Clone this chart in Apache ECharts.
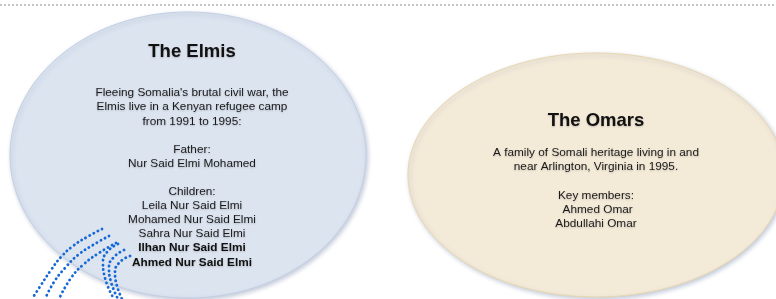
<!DOCTYPE html>
<html lang="en">
<head>
    <meta charset="UTF-8">
    <title>families</title>
    <script src="https://cdn.jsdelivr.net/npm/echarts@6/dist/echarts.min.js"></script>
    <style>
        html, body { margin: 0; padding: 0; background: #fff; }
    </style>
</head>
<body>
<div id="main" style="width:776px; height:299px;"></div>

<script>
    // ellipses (chart units = pixels, y goes down)
    var familyNames = ['The Elmis', 'The Omars'];
    var centerX = [188, 596];
    var centerY = [155, 175];
    var radiusX = [178, 188];
    var radiusY = [143, 122];

    var elmisLines = [
        "Fleeing Somalia's brutal civil war, the",
        'Elmis live in a Kenyan refugee camp',
        'from 1991 to 1995:',
        '',
        'Father:',
        'Nur Said Elmi Mohamed',
        '',
        'Children:',
        'Leila Nur Said Elmi',
        'Mohamed Nur Said Elmi',
        'Sahra Nur Said Elmi'
    ];
    var elmisBoldLines = ['Ilhan Nur Said Elmi', 'Ahmed Nur Said Elmi'];
    var omarsLines = [
        'A family of Somali heritage living in and',
        'near Arlington, Virginia in 1995.',
        '',
        'Key members:',
        ' Ahmed Omar',
        'Abdullahi Omar'
    ];

    // dotted arcs, points
    var arcA1 = [[102, 229], [87, 237], [73, 246], [61, 257], [51, 270], [41, 285], [32, 299]];
    var arcA2 = [[109, 236], [93, 245], [78, 255], [65, 268], [54, 282], [45, 299]];
    var arcA3 = [[116, 243], [99, 253], [84, 264], [71, 278], [59, 299]];
    var arcB1 = [[118, 244], [108, 251], [103, 262], [105, 278], [114, 299]];
    var arcB2 = [[124, 250], [114, 257], [109, 267], [111, 282], [118, 299]];
    var arcB3 = [[130, 256], [120, 262], [115, 272], [117, 286], [122, 299]];
    var topRule = [[0, 5], [776, 5]];

    var fills = ['#dce4f0', '#f4ead8'];
    var strokes = ['#c3cfe2', '#e8d7ae'];

    var ellipseData = [];
    for (var i = 0; i < familyNames.length; i++) {
        ellipseData.push([centerX[i], centerY[i], radiusX[i], radiusY[i]]);
    }

    function richText(title, lines, boldLines) {
        var s = '{title|' + title + '}\n{gap| }\n';
        var parts = lines.map(function (l) { return '{body|' + (l === '' ? ' ' : l) + '}'; });
        (boldLines || []).forEach(function (l) { parts.push('{bold|' + l + '}'); });
        return s + parts.join('\n');
    }

    var font = '"Liberation Sans", Arial, sans-serif';
    var rich = {
        title: { fontFamily: font, fontSize: 18.5, fontWeight: 'bold', lineHeight: 22, fill: '#111', align: 'center' },
        gap: { fontSize: 8, lineHeight: 23, align: 'center' },
        body: { fontFamily: font, fontSize: 11.8, lineHeight: 14.1, fill: '#1a1a1a', align: 'center' },
        bold: { fontFamily: font, fontSize: 11.8, fontWeight: 'bold', lineHeight: 14.1, fill: '#111', align: 'center' }
    };

    var myChart = echarts.init(document.getElementById('main'));

    function dotted(data) {
        return {
            type: 'line',
            data: data,
            smooth: true,
            symbol: 'none',
            silent: true,
            z: 5,
            lineStyle: { color: '#1668d6', width: 2.8, type: [0.2, 4.4], cap: 'round' }
        };
    }

    myChart.setOption({
        animation: false,
        grid: { left: 0, right: 0, top: 0, bottom: 0 },
        xAxis: { type: 'value', min: 0, max: 776, show: false },
        yAxis: { type: 'value', min: 0, max: 299, inverse: true, show: false },
        series: [
            {
                type: 'line',
                data: topRule,
                symbol: 'none',
                silent: true,
                lineStyle: { color: '#8a8a8a', width: 1, type: [2, 2] }
            },
            {
                type: 'custom',
                data: ellipseData,
                z: 2,
                renderItem: function (params, api) {
                    var c = api.coord([api.value(0), api.value(1)]);
                    var sz = api.size([api.value(2), api.value(3)]);
                    var idx = params.dataIndex;
                    return {
                        type: 'ellipse',
                        shape: { cx: c[0], cy: c[1], rx: sz[0], ry: sz[1] },
                        style: {
                            fill: fills[idx],
                            stroke: strokes[idx],
                            lineWidth: 1,
                            shadowBlur: 4,
                            shadowOffsetX: 1.5,
                            shadowOffsetY: 2,
                            shadowColor: 'rgba(90,110,150,0.35)'
                        }
                    };
                }
            },
            dotted(arcA1), dotted(arcA2), dotted(arcA3),
            dotted(arcB1), dotted(arcB2), dotted(arcB3),
            {
                type: 'custom',
                data: [[centerX[0] + 4, 41], [centerX[1], 110]],
                z: 4,
                renderItem: function (params, api) {
                    var p = api.coord([api.value(0), api.value(1)]);
                    var txt = params.dataIndex === 0
                        ? richText(familyNames[0], elmisLines, elmisBoldLines)
                        : richText(familyNames[1], omarsLines, []);
                    return {
                        type: 'text',
                        style: {
                            x: p[0],
                            y: p[1],
                            text: txt,
                            rich: params.dataIndex === 0 ? rich : Object.assign({}, rich, {
                                gap: { fontSize: 8, lineHeight: 14, align: 'center' }
                            }),
                            align: 'center',
                            verticalAlign: 'top',
                            textShadowColor: 'rgba(0,0,0,0.2)',
                            textShadowBlur: 2,
                            textShadowOffsetY: 1
                        }
                    };
                }
            }
        ]
    });
</script>
</body>
</html>
